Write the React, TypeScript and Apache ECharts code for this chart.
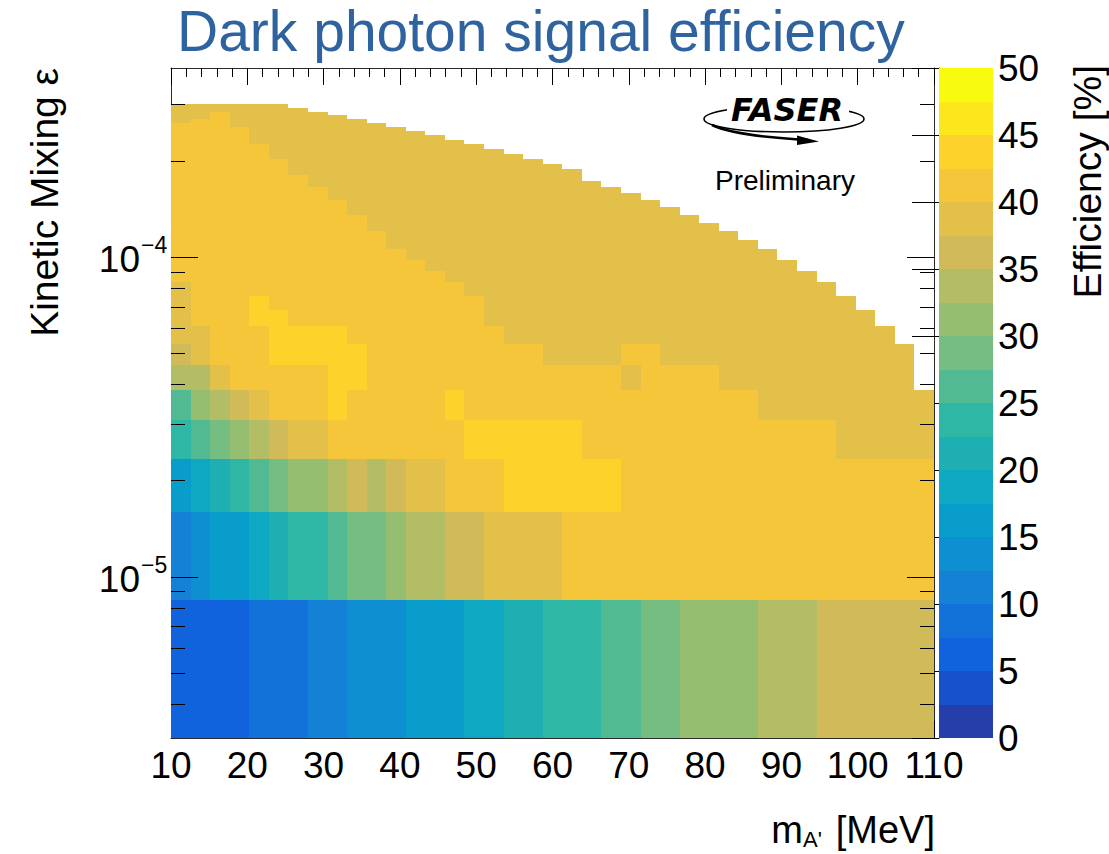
import { useEffect, useRef } from "react";
import * as echarts from "echarts";

const FONT = '"Liberation Sans", Arial, Helvetica, sans-serif';

// Histogram binning: mass in 39 equal bins, epsilon in 40 linear bins
const MASS_MIN = 10;
const MASS_MAX = 110;
const MASS_BINS = 39;
const EPS_MIN = 1e-6;
const EPS_MAX = 3e-4;
const EPS_BINS = 40;

// Visible axis ranges
const EPS_AXIS_MIN = 3.13e-6;
const EPS_AXIS_MAX = 3.9e-4;
const EFF_MIN = 0;
const EFF_MAX = 50;
const EFF_CONTOURS = 20;

const massTickLabels = [10, 20, 30, 40, 50, 60, 70, 80, 90, 100, 110];
const effTickLabels = [0, 5, 10, 15, 20, 25, 30, 35, 40, 45, 50];
const epsDecadeTicks = [1e-5, 1e-4];
const epsDecadeExponents = ["\u22125", "\u22124"];
const epsMinorTicks = [
  4e-6, 5e-6, 6e-6, 7e-6, 8e-6, 9e-6,
  2e-5, 3e-5, 4e-5, 5e-5, 6e-5, 7e-5, 8e-5, 9e-5,
  2e-4, 3e-4,
];

// Efficiency [%] per epsilon bin (row 0 = lowest epsilon).
// Each run: [first mass bin, last mass bin, efficiency]; bins not listed are empty.
const efficiencyRows: number[][][] = [
  /* 0 */ [[0, 3, 6.2], [4, 6, 8.7], [7, 8, 11.3], [9, 11, 13.8], [12, 14, 16.2], [15, 16, 18.8], [17, 18, 21.3], [19, 21, 23.7], [22, 23, 26.2], [24, 25, 28.8], [26, 29, 31.2], [30, 32, 33.8], [33, 38, 36.3]],
  /* 1 */ [[0, 0, 11.3], [1, 1, 13.8], [2, 3, 16.2], [4, 4, 18.8], [5, 5, 21.3], [6, 7, 23.7], [8, 8, 26.2], [9, 10, 28.8], [11, 11, 31.2], [12, 13, 33.8], [14, 15, 36.3], [16, 19, 38.7], [20, 38, 41.2]],
  /* 2 */ [[0, 0, 16.2], [1, 1, 18.8], [2, 2, 21.3], [3, 3, 23.7], [4, 4, 26.2], [5, 5, 28.8], [6, 7, 31.2], [8, 8, 33.8], [9, 9, 36.3], [10, 10, 33.8], [11, 11, 36.3], [12, 13, 38.7], [14, 16, 41.2], [17, 22, 43.6], [23, 38, 41.2]],
  /* 3 */ [[0, 0, 23.7], [1, 1, 26.2], [2, 2, 28.8], [3, 3, 31.2], [4, 4, 33.8], [5, 5, 36.3], [6, 7, 38.7], [8, 14, 41.2], [15, 20, 43.6], [21, 33, 41.2], [34, 38, 38.7]],
  /* 4 */ [[0, 0, 26.2], [1, 1, 31.2], [2, 2, 33.8], [3, 3, 36.3], [4, 4, 38.7], [5, 7, 41.2], [8, 8, 43.6], [9, 13, 41.2], [14, 14, 43.6], [15, 29, 41.2], [30, 38, 38.7]],
  /* 5 */ [[0, 1, 33.8], [2, 2, 38.7], [3, 7, 41.2], [8, 9, 43.6], [10, 22, 41.2], [23, 23, 38.7], [24, 27, 41.2], [28, 37, 38.7]],
  /* 6 */ [[0, 0, 36.3], [1, 1, 38.7], [2, 4, 41.2], [5, 9, 43.6], [10, 18, 41.2], [19, 22, 38.7], [23, 24, 41.2], [25, 37, 38.7]],
  /* 7 */ [[0, 1, 38.7], [2, 4, 41.2], [5, 8, 43.6], [9, 16, 41.2], [17, 36, 38.7]],
  /* 8 */ [[0, 0, 38.7], [1, 3, 41.2], [4, 5, 43.6], [6, 15, 41.2], [16, 35, 38.7]],
  /* 9 */ [[0, 0, 38.7], [1, 3, 41.2], [4, 4, 43.6], [5, 15, 41.2], [16, 34, 38.7]],
  /* 10 */ [[0, 0, 38.7], [1, 14, 41.2], [15, 33, 38.7]],
  /* 11 */ [[0, 13, 41.2], [14, 32, 38.7]],
  /* 12 */ [[0, 12, 41.2], [13, 31, 38.7]],
  /* 13 */ [[0, 11, 41.2], [12, 30, 38.7]],
  /* 14 */ [[0, 10, 41.2], [11, 29, 38.7]],
  /* 15 */ [[0, 10, 41.2], [11, 28, 38.7]],
  /* 16 */ [[0, 9, 41.2], [10, 27, 38.7]],
  /* 17 */ [[0, 9, 41.2], [10, 26, 38.7]],
  /* 18 */ [[0, 8, 41.2], [9, 25, 38.7]],
  /* 19 */ [[0, 8, 41.2], [9, 24, 38.7]],
  /* 20 */ [[0, 7, 41.2], [8, 23, 38.7]],
  /* 21 */ [[0, 7, 41.2], [8, 22, 38.7]],
  /* 22 */ [[0, 6, 41.2], [7, 21, 38.7]],
  /* 23 */ [[0, 6, 41.2], [7, 20, 38.7]],
  /* 24 */ [[0, 5, 41.2], [6, 20, 38.7]],
  /* 25 */ [[0, 5, 41.2], [6, 19, 38.7]],
  /* 26 */ [[0, 5, 41.2], [6, 18, 38.7]],
  /* 27 */ [[0, 4, 41.2], [5, 17, 38.7]],
  /* 28 */ [[0, 4, 41.2], [5, 16, 38.7]],
  /* 29 */ [[0, 4, 41.2], [5, 15, 38.7]],
  /* 30 */ [[0, 3, 41.2], [4, 14, 38.7]],
  /* 31 */ [[0, 3, 41.2], [4, 13, 38.7]],
  /* 32 */ [[0, 3, 41.2], [4, 12, 38.7]],
  /* 33 */ [[0, 3, 41.2], [4, 11, 38.7]],
  /* 34 */ [[0, 2, 41.2], [3, 10, 38.7]],
  /* 35 */ [[0, 0, 38.7], [1, 2, 41.2], [3, 9, 38.7]],
  /* 36 */ [[0, 1, 38.7], [2, 2, 41.2], [3, 8, 38.7]],
  /* 37 */ [[0, 1, 38.7], [2, 2, 41.2], [3, 7, 38.7]],
  /* 38 */ [[0, 6, 38.7]],
  /* 39 */ [[0, 5, 38.7]],
];

// ROOT "bird" palette stops
const birdStops = [0, 0.125, 0.25, 0.375, 0.5, 0.625, 0.75, 0.875, 1];
const birdRed = [0.2082, 0.0592, 0.078, 0.0232, 0.1802, 0.5301, 0.8186, 0.9956, 0.9764];
const birdGreen = [0.1664, 0.3599, 0.5041, 0.6419, 0.7178, 0.7492, 0.7328, 0.7862, 0.9832];
const birdBlue = [0.5293, 0.8684, 0.8385, 0.7914, 0.6425, 0.4662, 0.3499, 0.1968, 0.0539];

function birdColor(f: number): string {
  let i = 0;
  while (i < birdStops.length - 2 && f > birdStops[i + 1]) i++;
  const t = (f - birdStops[i]) / (birdStops[i + 1] - birdStops[i]);
  const mix = (a: number[]) => Math.round(255 * (a[i] + (a[i + 1] - a[i]) * t));
  return `rgb(${mix(birdRed)},${mix(birdGreen)},${mix(birdBlue)})`;
}

const contourColors = Array.from({ length: EFF_CONTOURS }, (_, i) => birdColor((i + 1) / EFF_CONTOURS));
const contourStep = (EFF_MAX - EFF_MIN) / EFF_CONTOURS;

function colorFor(v: number): string {
  const i = Math.max(0, Math.min(EFF_CONTOURS - 1, Math.floor((v - EFF_MIN) / contourStep)));
  return contourColors[i];
}

// Cells: [mass lo, mass hi, eps lo, eps hi, efficiency]
const massWidth = (MASS_MAX - MASS_MIN) / MASS_BINS;
const epsWidth = (EPS_MAX - EPS_MIN) / EPS_BINS;
const cells: number[][] = [];
efficiencyRows.forEach((runs, j) => {
  runs.forEach(([k0, k1, v]) => {
    for (let k = k0; k <= k1; k++) {
      cells.push([
        MASS_MIN + k * massWidth,
        MASS_MIN + (k + 1) * massWidth,
        EPS_MIN + j * epsWidth,
        EPS_MIN + (j + 1) * epsWidth,
        v,
      ]);
    }
  });
});

const contourBands = Array.from({ length: EFF_CONTOURS }, (_, i) => [
  EFF_MIN + i * contourStep,
  EFF_MIN + (i + 1) * contourStep,
]);

const epsTicks = [
  ...epsMinorTicks.map((v) => [v, 0]),
  ...epsDecadeTicks.map((v) => [v, 1]),
];

const FRAME = "#2a2a2a";

export default function App() {
  const ref = useRef<HTMLDivElement>(null);

  useEffect(() => {
    if (!ref.current) return;
    const chart = echarts.init(ref.current, undefined, { renderer: "svg" });

    const plot = { left: 171, top: 68, width: 763, height: 670 };
    const bar = { left: 939, top: 68, width: 54, height: 670 };

    const option: any = {
      animation: false,
      backgroundColor: "#ffffff",
      grid: [
        { ...plot, containLabel: false },
        { ...bar, containLabel: false },
      ],
      xAxis: [
        {
          gridIndex: 0,
          type: "value",
          min: MASS_MIN,
          max: MASS_MAX,
          interval: 10,
          position: "bottom",
          axisLine: { show: true, onZero: false, lineStyle: { color: FRAME, width: 1 } },
          axisTick: { show: true, inside: true, length: 17, lineStyle: { color: "#000" } },
          minorTick: { show: true, splitNumber: 5, length: 9, lineStyle: { color: "#000" } },
          axisLabel: {
            show: true,
            fontFamily: FONT,
            fontSize: 37,
            color: "#000",
            margin: 9,
            formatter: (v: number) => (massTickLabels.includes(v) ? String(v) : ""),
          },
          splitLine: { show: false },
        },
        {
          gridIndex: 0,
          type: "value",
          min: MASS_MIN,
          max: MASS_MAX,
          interval: 10,
          position: "top",
          axisLine: { show: true, onZero: false, lineStyle: { color: FRAME, width: 1 } },
          axisTick: { show: true, inside: true, length: 17, lineStyle: { color: "#000" } },
          minorTick: { show: true, splitNumber: 5, length: 9, lineStyle: { color: "#000" } },
          axisLabel: { show: false },
          splitLine: { show: false },
        },
        {
          gridIndex: 1,
          type: "value",
          min: 0,
          max: 1,
          show: false,
        },
      ],
      yAxis: [
        {
          gridIndex: 0,
          type: "log",
          logBase: 10,
          min: EPS_AXIS_MIN,
          max: EPS_AXIS_MAX,
          position: "left",
          axisLine: { show: true, onZero: false, lineStyle: { color: FRAME, width: 1 } },
          axisTick: { show: false },
          axisLabel: { show: false },
          splitLine: { show: false },
        },
        {
          gridIndex: 0,
          type: "log",
          logBase: 10,
          min: EPS_AXIS_MIN,
          max: EPS_AXIS_MAX,
          position: "right",
          axisLine: { show: true, onZero: false, lineStyle: { color: FRAME, width: 1 } },
          axisTick: { show: false },
          axisLabel: { show: false },
          splitLine: { show: false },
        },
        {
          gridIndex: 1,
          type: "value",
          min: EFF_MIN,
          max: EFF_MAX,
          interval: 5,
          position: "right",
          axisLine: { show: true, lineStyle: { color: FRAME, width: 1 } },
          axisTick: { show: true, inside: true, length: 27, lineStyle: { color: "#000" } },
          axisLabel: {
            show: true,
            fontFamily: FONT,
            fontSize: 37,
            color: "#000",
            margin: 5,
            formatter: (v: number) => (effTickLabels.includes(v) ? String(v) : ""),
          },
          splitLine: { show: false },
        },
      ],
      series: [
        {
          type: "custom",
          name: "efficiency",
          xAxisIndex: 0,
          yAxisIndex: 0,
          encode: { x: [0, 1], y: [2, 3] },
          data: cells,
          z: 2,
          renderItem: (params: any, api: any) => {
            const a = api.coord([api.value(0), api.value(3)]);
            const b = api.coord([api.value(1), api.value(2)]);
            const x0 = Math.round(a[0]);
            const y0 = Math.round(a[1]);
            const x1 = Math.round(b[0]);
            const y1 = Math.round(b[1]);
            const cs = params.coordSys;
            const shape = echarts.graphic.clipRectByRect(
              { x: x0, y: y0, width: x1 - x0, height: y1 - y0 },
              { x: cs.x, y: cs.y, width: cs.width, height: cs.height }
            );
            if (!shape) return null;
            return {
              type: "rect",
              shape,
              style: { fill: colorFor(api.value(4)), stroke: null },
            };
          },
        },
        {
          type: "custom",
          name: "epsTicks",
          xAxisIndex: 0,
          yAxisIndex: 0,
          data: epsTicks,
          encode: { x: -1, y: 0 },
          z: 5,
          silent: true,
          renderItem: (params: any, api: any) => {
            const cs = params.coordSys;
            const p = api.coord([MASS_MIN, api.value(0)]);
            const len = api.value(1) ? 27 : 14;
            const y = Math.round(p[1]) + 0.5;
            const xl = cs.x;
            const xr = cs.x + cs.width;
            return {
              type: "group",
              children: [
                { type: "line", shape: { x1: xl, y1: y, x2: xl + len, y2: y }, style: { stroke: "#000", lineWidth: 1 } },
                { type: "line", shape: { x1: xr - len, y1: y, x2: xr, y2: y }, style: { stroke: "#000", lineWidth: 1 } },
              ],
            };
          },
        },
        {
          type: "custom",
          name: "epsLabels",
          xAxisIndex: 0,
          yAxisIndex: 0,
          data: epsDecadeTicks.map((v) => [v]),
          encode: { x: -1, y: 0 },
          z: 5,
          silent: true,
          renderItem: (params: any, api: any) => {
            const p = api.coord([MASS_MIN, api.value(0)]);
            const xr = p[0] - 31;
            return {
              type: "group",
              children: [
                {
                  type: "text",
                  x: xr,
                  y: p[1] + 3,
                  style: { text: "10", font: `37px ${FONT}`, fill: "#000", align: "right", verticalAlign: "middle" },
                },
                {
                  type: "text",
                  x: xr + 1,
                  y: p[1] - 12,
                  style: {
                    text: epsDecadeExponents[params.dataIndex],
                    font: `23px ${FONT}`,
                    fill: "#000",
                    align: "left",
                    verticalAlign: "middle",
                  },
                },
              ],
            };
          },
        },
        {
          type: "custom",
          name: "palette",
          xAxisIndex: 2,
          yAxisIndex: 2,
          data: contourBands,
          encode: { x: -1, y: [0, 1] },
          z: 2,
          silent: true,
          renderItem: (params: any, api: any) => {
            const a = api.coord([0, api.value(1)]);
            const b = api.coord([1, api.value(0)]);
            const y0 = Math.round(a[1]);
            const y1 = Math.round(b[1]);
            return {
              type: "rect",
              shape: { x: a[0], y: y0, width: b[0] - a[0], height: y1 - y0 },
              style: { fill: contourColors[params.dataIndex], stroke: null },
            };
          },
        },
      ],
      graphic: [
        {
          type: "text",
          x: 177,
          y: 31,
          style: {
            text: "Dark photon signal efficiency",
            font: `57px ${FONT}`,
            fill: "#2e63a0",
            align: "left",
            verticalAlign: "middle",
          },
        },
        {
          type: "text",
          x: 44,
          y: 68,
          rotation: Math.PI / 2,
          style: {
            text: "Kinetic Mixing \u03b5",
            font: `39px ${FONT}`,
            fill: "#000",
            align: "right",
            verticalAlign: "middle",
          },
        },
        {
          type: "text",
          x: 1087,
          y: 65,
          rotation: Math.PI / 2,
          style: {
            text: "Efficiency [%]",
            font: `39px ${FONT}`,
            fill: "#000",
            align: "right",
            verticalAlign: "middle",
          },
        },
        {
          type: "text",
          x: 935,
          y: 830,
          style: { text: "[MeV]", font: `38px ${FONT}`, fill: "#000", align: "right", verticalAlign: "middle" },
        },
        {
          type: "text",
          x: 803,
          y: 839,
          style: { text: "A'", font: `22px ${FONT}`, fill: "#000", align: "left", verticalAlign: "middle" },
        },
        {
          type: "text",
          x: 803,
          y: 830,
          style: { text: "m", font: `38px ${FONT}`, fill: "#000", align: "right", verticalAlign: "middle" },
        },
        // FASER logo
        {
          type: "ellipse",
          shape: { cx: 784, cy: 119, rx: 80, ry: 13 },
          style: { fill: "none", stroke: "#000", lineWidth: 1.6 },
          z: 10,
        },
        {
          type: "rect",
          shape: { x: 727, y: 96, width: 122, height: 23 },
          style: { fill: "#ffffff" },
          z: 11,
        },
        {
          type: "text",
          x: 787,
          y: 110,
          style: {
            text: "FASER",
            font: `italic bold 32px "DejaVu Sans", ${FONT}`,
            fill: "#000",
            align: "center",
            verticalAlign: "middle",
          },
          z: 12,
        },
        {
          type: "bezierCurve",
          shape: { x1: 712, y1: 125, cpx1: 735, cpy1: 136, x2: 808, y2: 140 },
          style: { fill: "none", stroke: "#000", lineWidth: 2.6 },
          z: 12,
        },
        {
          type: "polygon",
          shape: { points: [[797, 135.5], [819, 141.5], [797, 145]] },
          style: { fill: "#000" },
          z: 12,
        },
        {
          type: "text",
          x: 785,
          y: 180,
          style: { text: "Preliminary", font: `28px ${FONT}`, fill: "#000", align: "center", verticalAlign: "middle" },
          z: 12,
        },
      ],
    };

    chart.setOption(option);
    return () => chart.dispose();
  }, []);

  return (
    <div
      ref={ref}
      style={{ position: "absolute", left: 0, top: 0, width: 1109, height: 854, background: "#fff" }}
    />
  );
}
